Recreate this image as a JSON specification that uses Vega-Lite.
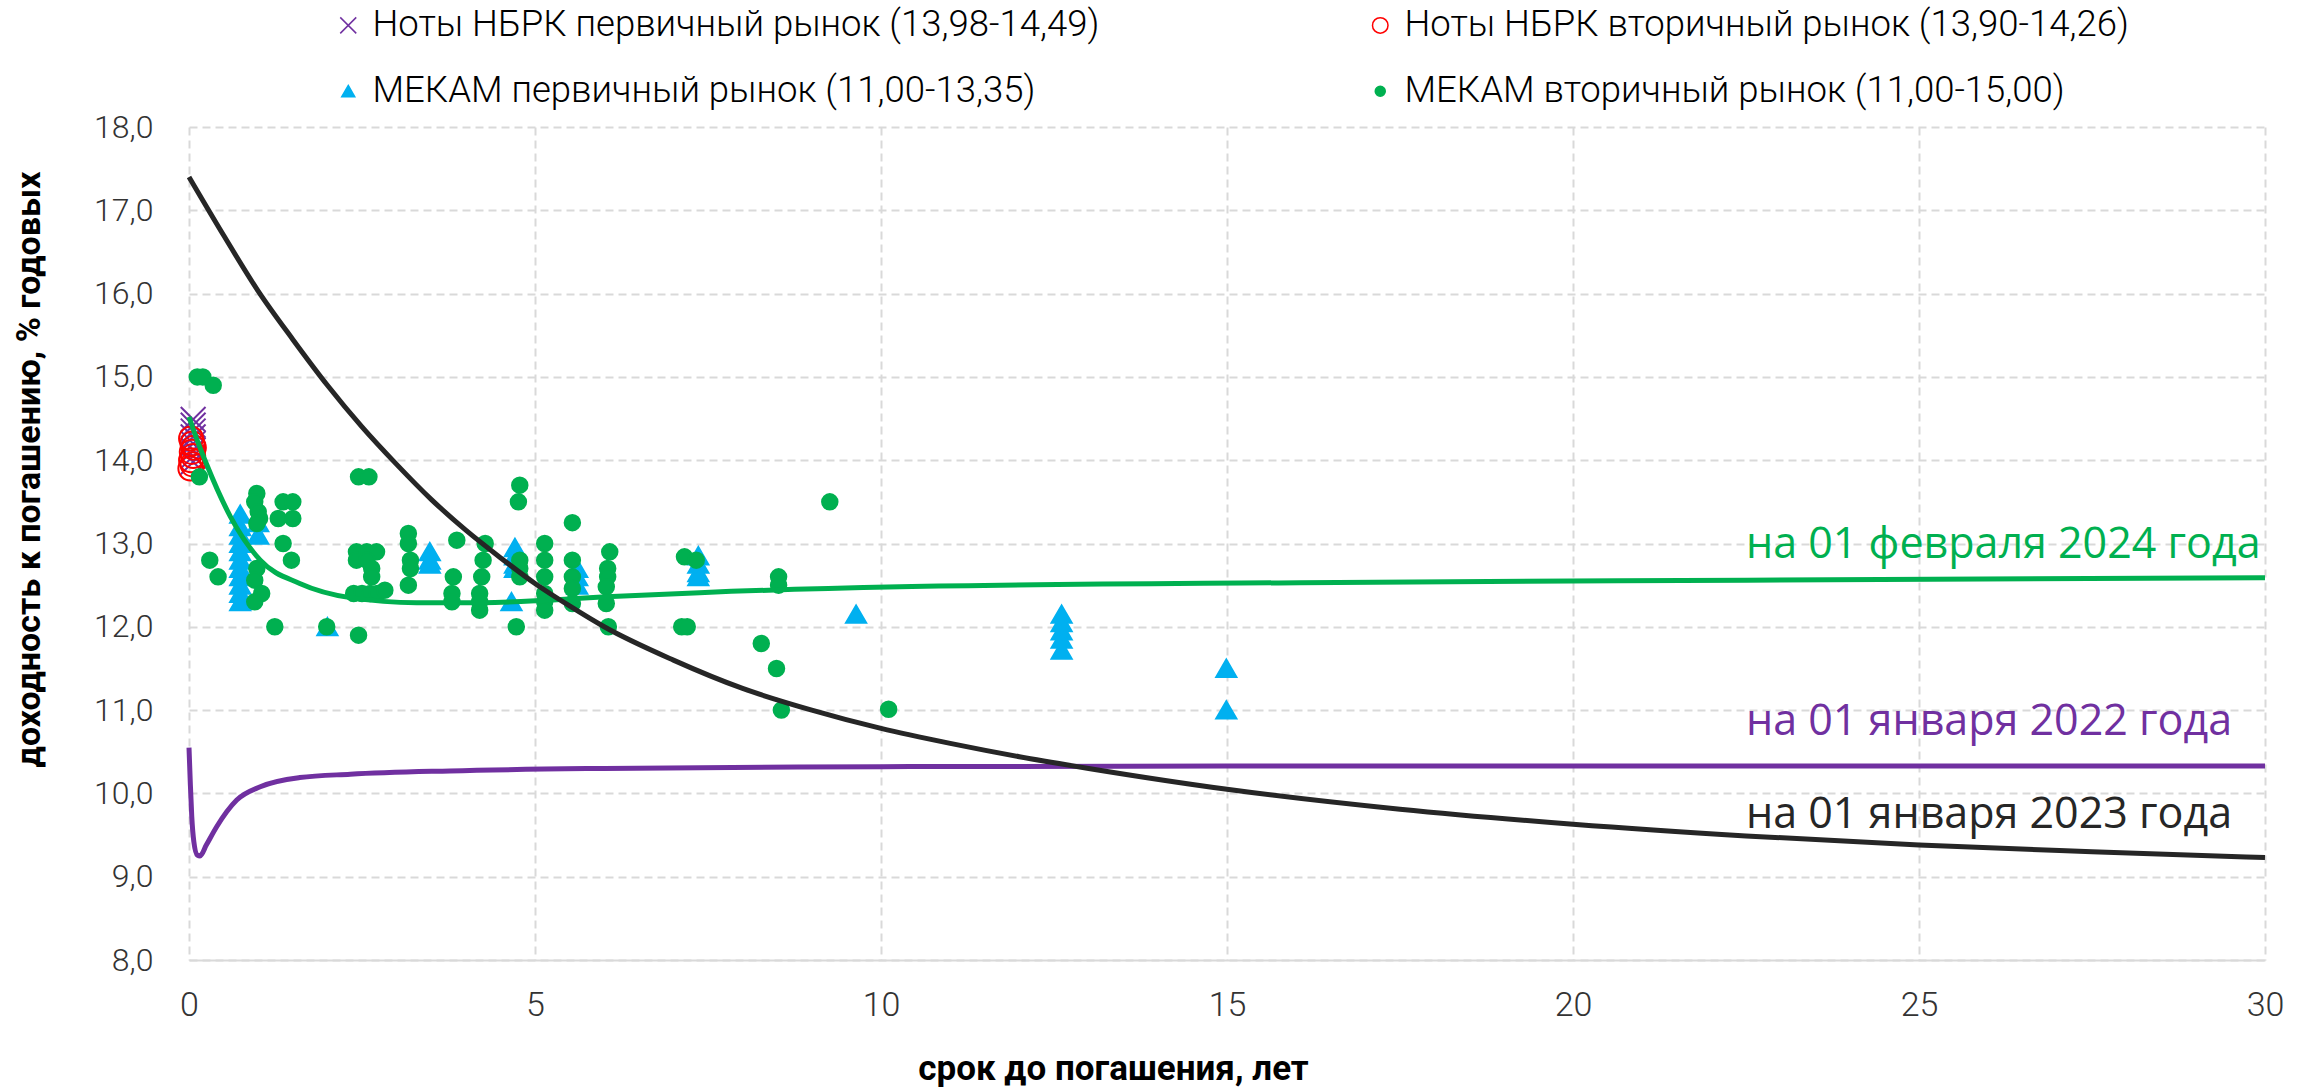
{
  "$schema": "https://vega.github.io/schema/vega-lite/v6.json",
  "width": 2076,
  "height": 833,
  "autosize": {"type": "none"},
  "padding": {"left": 189, "top": 127, "right": 53, "bottom": 131},
  "background": "white",
  "config": {"view": {"stroke": null}, "font": "Roboto"},
  "datasets": {
    "points": [
      {"s":"A","x":0.06,"y":14.49},{"s":"A","x":0.06,"y":14.42},{"s":"A","x":0.06,"y":14.35},{"s":"A","x":0.06,"y":14.28},{"s":"A","x":0.06,"y":14.2},{"s":"A","x":0.06,"y":14.12},{"s":"A","x":0.06,"y":14.05},{"s":"A","x":0.06,"y":13.98},
      {"s":"B","x":0.03,"y":14.26},{"s":"B","x":0.05,"y":14.2},{"s":"B","x":0.07,"y":14.15},{"s":"B","x":0.04,"y":14.1},{"s":"B","x":0.06,"y":14.05},{"s":"B","x":0.03,"y":14.0},{"s":"B","x":0.05,"y":13.95},{"s":"B","x":0.02,"y":13.9},
      {"s":"C","x":0.74,"y":13.35},{"s":"C","x":0.74,"y":13.2},{"s":"C","x":0.74,"y":13.1},{"s":"C","x":0.74,"y":13.0},{"s":"C","x":0.74,"y":12.9},{"s":"C","x":0.74,"y":12.8},{"s":"C","x":0.74,"y":12.7},{"s":"C","x":0.74,"y":12.6},{"s":"C","x":0.74,"y":12.5},{"s":"C","x":0.74,"y":12.4},{"s":"C","x":0.74,"y":12.3},
      {"s":"C","x":1.0,"y":13.25},{"s":"C","x":1.0,"y":13.1},{"s":"C","x":2.0,"y":12.0},
      {"s":"C","x":3.48,"y":12.9},{"s":"C","x":3.48,"y":12.8},{"s":"C","x":3.48,"y":12.75},
      {"s":"C","x":4.71,"y":12.95},{"s":"C","x":4.71,"y":12.85},{"s":"C","x":4.71,"y":12.75},{"s":"C","x":4.71,"y":12.7},{"s":"C","x":4.66,"y":12.3},
      {"s":"C","x":5.61,"y":12.7},{"s":"C","x":5.61,"y":12.6},{"s":"C","x":5.61,"y":12.5},
      {"s":"C","x":7.36,"y":12.85},{"s":"C","x":7.36,"y":12.75},{"s":"C","x":7.36,"y":12.65},{"s":"C","x":7.36,"y":12.6},
      {"s":"C","x":9.64,"y":12.15},
      {"s":"C","x":12.61,"y":12.15},{"s":"C","x":12.61,"y":12.05},{"s":"C","x":12.61,"y":11.95},{"s":"C","x":12.61,"y":11.85},{"s":"C","x":12.61,"y":11.72},
      {"s":"C","x":14.99,"y":11.5},{"s":"C","x":14.99,"y":11.0},
      {"s":"D","x":0.12,"y":15.0},{"s":"D","x":0.2,"y":15.0},{"s":"D","x":0.35,"y":14.9},{"s":"D","x":0.15,"y":13.8},
      {"s":"D","x":0.3,"y":12.8},{"s":"D","x":0.42,"y":12.6},
      {"s":"D","x":0.98,"y":13.6},{"s":"D","x":0.95,"y":13.5},{"s":"D","x":1.0,"y":13.38},{"s":"D","x":1.02,"y":13.3},{"s":"D","x":0.98,"y":13.24},
      {"s":"D","x":0.98,"y":12.7},{"s":"D","x":0.95,"y":12.56},{"s":"D","x":1.05,"y":12.4},{"s":"D","x":0.95,"y":12.3},
      {"s":"D","x":1.36,"y":13.5},{"s":"D","x":1.5,"y":13.5},{"s":"D","x":1.29,"y":13.3},{"s":"D","x":1.5,"y":13.3},{"s":"D","x":1.36,"y":13.0},{"s":"D","x":1.48,"y":12.8},{"s":"D","x":1.24,"y":12.0},
      {"s":"D","x":1.99,"y":12.0},{"s":"D","x":2.45,"y":11.9},{"s":"D","x":2.45,"y":13.8},{"s":"D","x":2.6,"y":13.8},
      {"s":"D","x":2.42,"y":12.9},{"s":"D","x":2.57,"y":12.9},{"s":"D","x":2.71,"y":12.9},{"s":"D","x":2.42,"y":12.8},{"s":"D","x":2.57,"y":12.8},{"s":"D","x":2.64,"y":12.7},{"s":"D","x":2.64,"y":12.6},
      {"s":"D","x":2.38,"y":12.4},{"s":"D","x":2.5,"y":12.4},{"s":"D","x":2.62,"y":12.4},{"s":"D","x":2.72,"y":12.4},{"s":"D","x":2.83,"y":12.44},
      {"s":"D","x":3.17,"y":13.12},{"s":"D","x":3.17,"y":13.0},{"s":"D","x":3.2,"y":12.8},{"s":"D","x":3.2,"y":12.7},{"s":"D","x":3.17,"y":12.5},
      {"s":"D","x":3.87,"y":13.04},{"s":"D","x":3.82,"y":12.6},{"s":"D","x":3.8,"y":12.4},{"s":"D","x":3.8,"y":12.3},
      {"s":"D","x":4.28,"y":13.0},{"s":"D","x":4.25,"y":12.8},{"s":"D","x":4.23,"y":12.6},{"s":"D","x":4.2,"y":12.4},{"s":"D","x":4.2,"y":12.3},{"s":"D","x":4.2,"y":12.2},
      {"s":"D","x":4.78,"y":13.7},{"s":"D","x":4.76,"y":13.5},{"s":"D","x":4.78,"y":12.8},{"s":"D","x":4.78,"y":12.7},{"s":"D","x":4.78,"y":12.6},{"s":"D","x":4.73,"y":12.0},
      {"s":"D","x":5.14,"y":13.0},{"s":"D","x":5.14,"y":12.8},{"s":"D","x":5.14,"y":12.6},{"s":"D","x":5.14,"y":12.4},{"s":"D","x":5.14,"y":12.3},{"s":"D","x":5.14,"y":12.2},
      {"s":"D","x":5.54,"y":13.25},{"s":"D","x":5.54,"y":12.8},{"s":"D","x":5.54,"y":12.6},{"s":"D","x":5.54,"y":12.46},{"s":"D","x":5.54,"y":12.28},
      {"s":"D","x":6.08,"y":12.9},{"s":"D","x":6.05,"y":12.7},{"s":"D","x":6.05,"y":12.6},{"s":"D","x":6.03,"y":12.48},{"s":"D","x":6.03,"y":12.28},{"s":"D","x":6.06,"y":12.0},
      {"s":"D","x":7.16,"y":12.84},{"s":"D","x":7.33,"y":12.8},{"s":"D","x":7.12,"y":12.0},{"s":"D","x":7.2,"y":12.0},
      {"s":"D","x":8.52,"y":12.6},{"s":"D","x":8.52,"y":12.5},{"s":"D","x":8.27,"y":11.8},{"s":"D","x":8.49,"y":11.5},{"s":"D","x":8.56,"y":11.0},
      {"s":"D","x":9.26,"y":13.5},{"s":"D","x":10.11,"y":11.01}
    ],
    "curves": [
      {"c":"p","x":0,"y":10.55},{"c":"p","x":0.02,"y":10.1},{"c":"p","x":0.04,"y":9.72},{"c":"p","x":0.07,"y":9.42},{"c":"p","x":0.12,"y":9.26},{"c":"p","x":0.16,"y":9.25},{"c":"p","x":0.25,"y":9.38},{"c":"p","x":0.4,"y":9.6},{"c":"p","x":0.69,"y":9.92},{"c":"p","x":1.03,"y":10.08},{"c":"p","x":1.6,"y":10.19},{"c":"p","x":2.33,"y":10.23},{"c":"p","x":3.77,"y":10.27},{"c":"p","x":6,"y":10.3},{"c":"p","x":10,"y":10.32},{"c":"p","x":15,"y":10.33},{"c":"p","x":30,"y":10.33},
      {"c":"g","x":0,"y":14.52},{"c":"g","x":0.1,"y":14.28},{"c":"g","x":0.25,"y":13.96},{"c":"g","x":0.6,"y":13.32},{"c":"g","x":1.03,"y":12.8},{"c":"g","x":1.6,"y":12.52},{"c":"g","x":2.33,"y":12.35},{"c":"g","x":3.29,"y":12.29},{"c":"g","x":4.25,"y":12.29},{"c":"g","x":5.2,"y":12.32},{"c":"g","x":6.03,"y":12.36},{"c":"g","x":7.38,"y":12.41},{"c":"g","x":10.27,"y":12.48},{"c":"g","x":16.05,"y":12.53},{"c":"g","x":22.5,"y":12.56},{"c":"g","x":30,"y":12.59},
      {"c":"k","x":0,"y":17.4},{"c":"k","x":0.5,"y":16.7},{"c":"k","x":1.0,"y":16.03},{"c":"k","x":1.5,"y":15.45},{"c":"k","x":2.0,"y":14.9},{"c":"k","x":2.5,"y":14.4},{"c":"k","x":3.0,"y":13.95},{"c":"k","x":3.5,"y":13.53},{"c":"k","x":4.0,"y":13.16},{"c":"k","x":4.5,"y":12.83},{"c":"k","x":5.0,"y":12.52},{"c":"k","x":5.5,"y":12.25},{"c":"k","x":6.0,"y":12.0},{"c":"k","x":7.0,"y":11.6},{"c":"k","x":8.0,"y":11.26},{"c":"k","x":9.0,"y":11.0},{"c":"k","x":10,"y":10.78},{"c":"k","x":11,"y":10.6},{"c":"k","x":12,"y":10.44},{"c":"k","x":13,"y":10.3},{"c":"k","x":15,"y":10.05},{"c":"k","x":17.5,"y":9.81},{"c":"k","x":20,"y":9.63},{"c":"k","x":22.5,"y":9.49},{"c":"k","x":25,"y":9.38},{"c":"k","x":27.5,"y":9.3},{"c":"k","x":30,"y":9.23}
    ],
    "labels": [
      {"c":"g","x":22.5,"y":12.83,"label":"на 01 февраля 2024 года"},
      {"c":"p","x":22.5,"y":10.7,"label":"на 01 января 2022 года"},
      {"c":"k","x":22.5,"y":9.585,"label":"на 01 января 2023 года"}
    ]
  },
  "encoding": {
    "x": {
      "field": "x", "type": "quantitative",
      "scale": {"domain": [0, 30], "nice": false, "zero": false},
      "axis": {
        "values": [0, 5, 10, 15, 20, 25, 30],
        "title": "срок до погашения, лет",
        "titleFont": "Roboto", "titleFontSize": 35, "titleFontWeight": "bold", "titleColor": "#000000",
        "titleX": 924, "titleY": 108, "titleBaseline": "middle", "titleAlign": "center",
        "labelFont": "Roboto", "labelFontSize": 34, "labelFontWeight": 300, "labelColor": "#333333",
        "labelPadding": 28, "labelFlush": false, "ticks": false,
        "domain": true, "domainColor": "#D9D9D9", "domainWidth": 2,
        "grid": true, "gridColor": "#D9D9D9", "gridDash": [8, 5], "gridWidth": 2
      }
    },
    "y": {
      "field": "y", "type": "quantitative",
      "scale": {"domain": [8, 18], "nice": false, "zero": false},
      "axis": {
        "values": [8, 9, 10, 11, 12, 13, 14, 15, 16, 17, 18],
        "labelExpr": "replace(format(datum.value, '.1f'), '.', ',')",
        "title": "доходность к погашению, % годовых",
        "titleFont": "Roboto", "titleFontSize": 34, "titleFontWeight": "bold", "titleColor": "#000000",
        "titleX": -160, "titleY": 342, "titleAngle": -90, "titleBaseline": "middle", "titleAlign": "center",
        "labelFont": "Roboto", "labelFontSize": 32, "labelFontWeight": 300, "labelColor": "#333333",
        "labelPadding": 36, "ticks": false, "domain": false,
        "grid": true, "gridColor": "#D9D9D9", "gridDash": [8, 5], "gridWidth": 2
      }
    }
  },
  "layer": [
    {
      "data": {"name": "points"},
      "mark": {"type": "point", "size": 240, "strokeWidth": 2, "opacity": 1},
      "encoding": {
        "shape": {
          "field": "s", "type": "nominal",
          "scale": {"domain": ["A", "B", "C", "D"], "range": ["M-1.6,-1.6L1.6,1.6M-1.6,1.6L1.6,-1.6", "M1.55,0A1.55,1.55,0,1,1,-1.55,0A1.55,1.55,0,1,1,1.55,0Z", "M0,-1.15L1.3,1.1L-1.3,1.1Z", "circle"]},
          "legend": {"title": null, "orient": "none", "legendX": 141, "legendY": -120, "direction": "horizontal", "columns": 2, "columnPadding": 262, "rowPadding": 29, "padding": 0, "labelFont": "Roboto", "labelFontSize": 36.5, "labelFontWeight": 300, "labelColor": "#000000", "labelLimit": 0, "labelOffset": 6, "symbolSize": 100, "symbolStrokeWidth": 1.5,
            "labelExpr": "datum.label == 'A' ? 'Ноты НБРК первичный рынок (13,98-14,49)' : datum.label == 'B' ? 'Ноты НБРК вторичный рынок (13,90-14,26)' : datum.label == 'C' ? 'МЕКАМ первичный рынок (11,00-13,35)' : 'МЕКАМ вторичный рынок (11,00-15,00)'"}
        },
        "fill": {
          "field": "s", "type": "nominal",
          "scale": {"domain": ["A", "B", "C", "D"], "range": ["transparent", "transparent", "#00B0F0", "#00B050"]},
          "legend": {"title": null, "orient": "none", "legendX": 141, "legendY": -120, "direction": "horizontal", "columns": 2, "columnPadding": 262, "rowPadding": 29, "padding": 0, "labelFont": "Roboto", "labelFontSize": 36.5, "labelFontWeight": 300, "labelColor": "#000000", "labelLimit": 0, "labelOffset": 6, "symbolSize": 100, "symbolStrokeWidth": 1.5,
            "labelExpr": "datum.label == 'A' ? 'Ноты НБРК первичный рынок (13,98-14,49)' : datum.label == 'B' ? 'Ноты НБРК вторичный рынок (13,90-14,26)' : datum.label == 'C' ? 'МЕКАМ первичный рынок (11,00-13,35)' : 'МЕКАМ вторичный рынок (11,00-15,00)'"}
        },
        "stroke": {
          "field": "s", "type": "nominal",
          "scale": {"domain": ["A", "B", "C", "D"], "range": ["#7030A0", "#FF0000", "#00B0F0", "#00B050"]},
          "legend": {"title": null, "orient": "none", "legendX": 141, "legendY": -120, "direction": "horizontal", "columns": 2, "columnPadding": 262, "rowPadding": 29, "padding": 0, "labelFont": "Roboto", "labelFontSize": 36.5, "labelFontWeight": 300, "labelColor": "#000000", "labelLimit": 0, "labelOffset": 6, "symbolSize": 100, "symbolStrokeWidth": 1.5,
            "labelExpr": "datum.label == 'A' ? 'Ноты НБРК первичный рынок (13,98-14,49)' : datum.label == 'B' ? 'Ноты НБРК вторичный рынок (13,90-14,26)' : datum.label == 'C' ? 'МЕКАМ первичный рынок (11,00-13,35)' : 'МЕКАМ вторичный рынок (11,00-15,00)'"}
        }
      }
    },
    {
      "data": {"name": "curves"},
      "mark": {"type": "line", "strokeWidth": 5, "interpolate": "monotone"},
      "encoding": {
        "color": {"field": "c", "type": "nominal", "scale": {"domain": ["p", "g", "k"], "range": ["#7030A0", "#00B050", "#262626"]}, "legend": null}
      }
    },
    {
      "data": {"name": "labels"},
      "mark": {"type": "text", "align": "left", "baseline": "alphabetic", "font": "Open Sans", "fontSize": 43},
      "encoding": {
        "text": {"field": "label"},
        "color": {"field": "c", "type": "nominal", "legend": null}
      }
    }
  ]
}
